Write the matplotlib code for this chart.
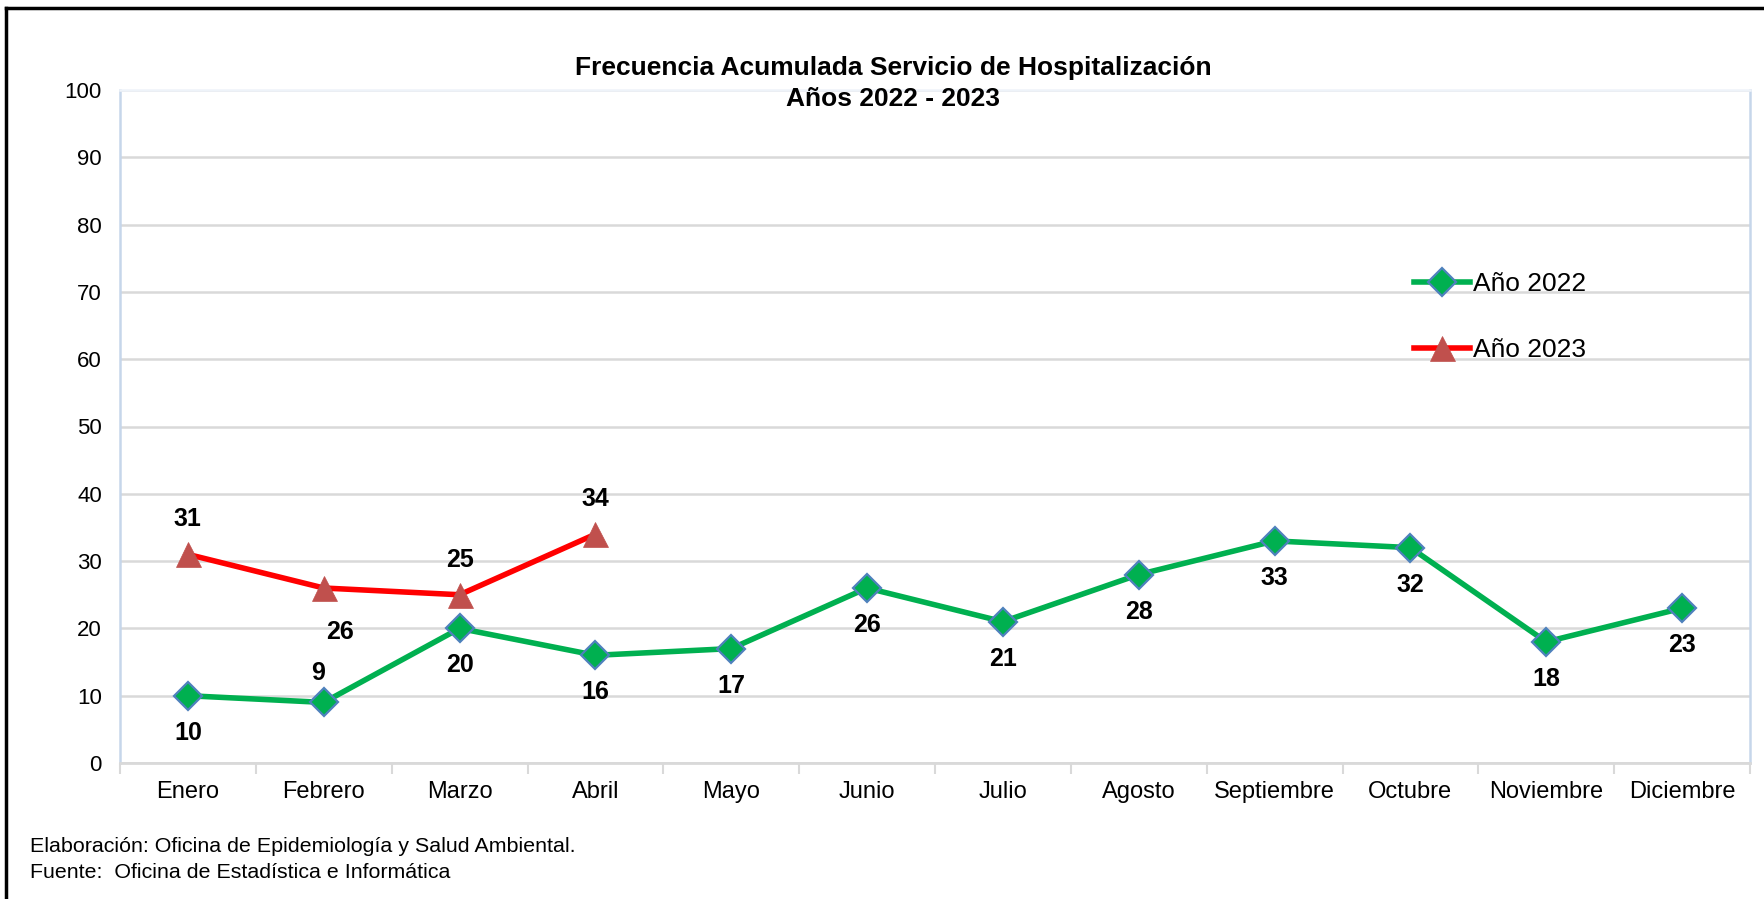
import matplotlib
matplotlib.use("Agg")
import matplotlib.pyplot as plt
from matplotlib.lines import Line2D
import numpy as np

meses = ["Enero", "Febrero", "Marzo", "Abril", "Mayo", "Junio", "Julio",
         "Agosto", "Septiembre", "Octubre", "Noviembre", "Diciembre"]
anio_2022 = [10, 9, 20, 16, 17, 26, 21, 28, 33, 32, 18, 23]
anio_2023 = [31, 26, 25, 34]
y_ticks = [0, 10, 20, 30, 40, 50, 60, 70, 80, 90, 100]

plt.rcParams['font.family'] = ['Liberation Sans', 'DejaVu Sans']

W, H = 1764, 899
fig = plt.figure(figsize=(W / 100, H / 100), dpi=100)
ax = fig.add_axes([120 / W, 1 - 763 / H, (1750 - 120) / W, (763 - 90) / H])

x22 = np.arange(len(anio_2022))
x23 = np.arange(len(anio_2023))

ax.plot(x22, anio_2022, color="#00B050", lw=4.0, marker="D", markersize=14,
        markerfacecolor="#00B050", markeredgecolor="#4F81BD", markeredgewidth=1.6,
        label="Año 2022", zorder=3)
ax.plot(x23, anio_2023, color="#FF0000", lw=4.0, marker="^", markersize=18,
        markerfacecolor="#C0504D", markeredgecolor="#C0504D", markeredgewidth=0.5,
        label="Año 2023", zorder=4)

lab_kw = dict(textcoords="offset pixels", ha="center", va="center",
              fontsize=18, fontweight="bold", color="black")
for i, v in enumerate(anio_2022):
    off = (-6, 29) if i == 1 else (0, -37)
    ax.annotate(str(v), (x22[i], v), xytext=off, **lab_kw)
for i, v in enumerate(anio_2023):
    off = (16, -44) if i == 1 else (0, 35)
    ax.annotate(str(v), (x23[i], v), xytext=off, **lab_kw)

ax.set_xlim(-0.5, len(meses) - 0.5)
ax.set_ylim(0, 100)
ax.set_yticks(y_ticks)
ax.set_yticklabels([str(t) for t in y_ticks], fontsize=16)
ax.tick_params(axis="y", length=0, pad=13)
ax.set_xticks(np.arange(len(meses)))
ax.set_xticklabels(meses, fontsize=17)
ax.tick_params(axis="x", which="major", length=0, pad=13)
ax.set_xticks(np.arange(len(meses) + 1) - 0.5, minor=True)
ax.tick_params(axis="x", which="minor", length=8, width=1.5, color="#D9D9D9")

ax.grid(axis="y", color="#D9D9D9", lw=1.8)
ax.set_axisbelow(True)
for s in ["left", "right"]:
    ax.spines[s].set_color("#C6D6EA")
    ax.spines[s].set_linewidth(1.8)
ax.spines["top"].set_color("#EEF3F9")
ax.spines["top"].set_linewidth(1.8)
ax.spines["bottom"].set_color("#D9D9D9")
ax.spines["bottom"].set_linewidth(2.0)

leg = ax.legend(loc="upper left", bbox_to_anchor=((1401 - 120) / 1630, (763 - 259) / 673),
                frameon=False, fontsize=19, labelspacing=1.6, handlelength=2.1,
                handletextpad=0.12, borderpad=0)

fig.text(893 / W, 1 - 68 / H, "Frecuencia Acumulada Servicio de Hospitalización",
         ha="center", va="center", fontsize=19, fontweight="bold")
fig.text(893 / W, 1 - 99 / H, "Años 2022 - 2023",
         ha="center", va="center", fontsize=19, fontweight="bold")

fig.text(30 / W, 1 - 847 / H, "Elaboración: Oficina de Epidemiología y Salud Ambiental.",
         ha="left", va="center", fontsize=15.4)
fig.text(30 / W, 1 - 873 / H, "Fuente:  Oficina de Estadística e Informática",
         ha="left", va="center", fontsize=15.4)

fig.add_artist(Line2D([6 / W, 6 / W], [0, 1 - 8 / H], color="black", lw=2.5,
                      transform=fig.transFigure))
fig.add_artist(Line2D([6 / W, 1], [1 - 8 / H, 1 - 8 / H], color="black", lw=2.5,
                      transform=fig.transFigure))

fig.savefig("out.png", dpi=100)
